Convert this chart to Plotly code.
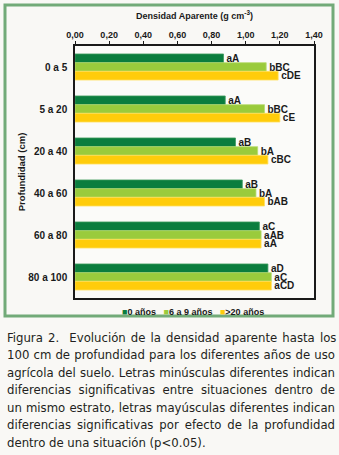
import json
import plotly.graph_objects as go

# Soil depth strata (cm)
profundidad = ["0 a 5", "5 a 20", "20 a 40", "40 a 60", "60 a 80", "80 a 100"]

# Bulk density (g cm-3) by years of agricultural use
da_0 = [0.87, 0.88, 0.94, 0.98, 1.08, 1.13]
da_6_9 = [1.12, 1.11, 1.07, 1.06, 1.09, 1.15]
da_20 = [1.19, 1.20, 1.13, 1.11, 1.09, 1.15]

# Significance letters
let_0 = ["aA", "aA", "aB", "aB", "aC", "aD"]
let_6_9 = ["bBC", "bBC", "bA", "bA", "aAB", "aC"]
let_20 = ["cDE", "cE", "cBC", "bAB", "aA", "aCD"]

series_names = ["0 años", "6 a 9 años", ">20 años"]
colors = ["#0b7d3e", "#9acb3c", "#ffcc0b"]
edge_colors = ["#3f9a5e", "#b8dc70", "#ffe060"]

caption_lines = [
    "Figura 2.  Evolución de la densidad aparente hasta los",
    "100 cm de profundidad para los diferentes años de uso",
    "agrícola del suelo. Letras minúsculas diferentes indican",
    "diferencias significativas entre situaciones dentro de",
    "un mismo estrato, letras mayúsculas diferentes indican",
    "diferencias significativas por efecto de la profundidad",
    "dentro de una situación (p<0.05).",
]

W, H = 339, 455
L, R, T, B = 75, 25, 46, 157
pw, ph = W - L - R, H - T - B
CAPTION_LEFT, CAPTION_RIGHT = 5, 333


def px_x(x):
    return (x - L) / pw


def px_y(y):
    return (H - B - y) / ph


bold = dict(family="Liberation Sans, Arial, sans-serif", color="#1a1a1a", weight="bold")

fig = go.Figure()
for vals, labels, name, col, ecol in zip(
    [da_0, da_6_9, da_20], [let_0, let_6_9, let_20], series_names, colors, edge_colors
):
    fig.add_trace(
        go.Bar(
            x=vals,
            y=profundidad,
            orientation="h",
            name=name,
            marker=dict(color=col, line=dict(color=ecol, width=0.8)),
            text=labels,
            textposition="outside",
            constraintext="none",
            cliponaxis=False,
            textfont=dict(size=10, **bold),
            showlegend=False,
        )
    )

legend_text = "   ".join(
    f"<span style='color:{c}'>■</span>{n}" for c, n in zip(colors, series_names)
)

annotations = [
    dict(
        text=legend_text,
        xref="paper", yref="paper",
        x=px_x(193), y=px_y(312),
        xanchor="center", yanchor="middle",
        showarrow=False,
        font=dict(size=9, **bold),
    )
]

for i, line in enumerate(caption_lines):
    annotations.append(
        dict(
            text=line,
            xref="paper", yref="paper",
            x=px_x(CAPTION_LEFT), y=px_y(337 + 17.5 * i),
            xanchor="left", yanchor="middle",
            showarrow=False,
            font=dict(family="DejaVu Sans Condensed, Liberation Sans, sans-serif",
                      size=13, color="#231f20"),
        )
    )

fig.update_layout(
    width=W,
    height=H,
    margin=dict(l=L, r=R, t=T, b=B),
    paper_bgcolor="#f9f8f5",
    plot_bgcolor="#fbfbf9",
    barmode="group",
    bargap=0.38,
    bargroupgap=0,
    separators=",.",
    annotations=annotations,
    shapes=[
        dict(
            type="rect", xref="paper", yref="paper",
            x0=px_x(5), x1=px_x(333), y0=px_y(316), y1=px_y(5),
            line=dict(color="#72aa78", width=3),
            layer="below",
        )
    ],
)

fig.update_xaxes(
    side="top",
    range=[0, 1.4],
    dtick=0.2,
    tickformat=".2f",
    ticks="outside",
    ticklen=3,
    tickcolor="#1a1a1a",
    showgrid=False,
    zeroline=False,
    showline=True,
    linecolor="#1a1a1a",
    linewidth=1.5,
    mirror=True,
    tickfont=dict(size=9, **bold),
    title=dict(text="Densidad Aparente (g cm<sup>-3</sup>)", font=dict(size=9, **bold), standoff=9),
)
fig.update_yaxes(
    autorange="reversed",
    ticks="",
    showgrid=False,
    showline=True,
    linecolor="#1a1a1a",
    linewidth=1.5,
    mirror=True,
    ticklabelstandoff=4,
    tickfont=dict(size=10, **bold),
    title=dict(text="Profundidad (cm)", font=dict(size=9.5, **bold), standoff=1),
)

# Justify the caption: stretch word spacing so every line but the last
# spans the caption block, then shift it back to the left margin.
justify_js = """
var justified = %s;
var target = %d;
var gd = document.getElementById('{plot_id}');
gd.querySelectorAll('.annotation-text').forEach(function (t) {
    var s = t.textContent;
    if (justified.indexOf(s) < 0) return;
    var gaps = (s.match(/ +/g) || []).length;
    if (!gaps) return;
    var before = t.getBBox().x;
    var w = t.getComputedTextLength();
    t.style.wordSpacing = ((target - w) / gaps) + 'px';
    var after = t.getBBox().x;
    var x = parseFloat(t.getAttribute('x')) || 0;
    t.setAttribute('x', x + (before - after));
});
""" % (json.dumps(caption_lines[:-1]), CAPTION_RIGHT - CAPTION_LEFT)

fig.write_html("out.html", post_script=justify_js)
